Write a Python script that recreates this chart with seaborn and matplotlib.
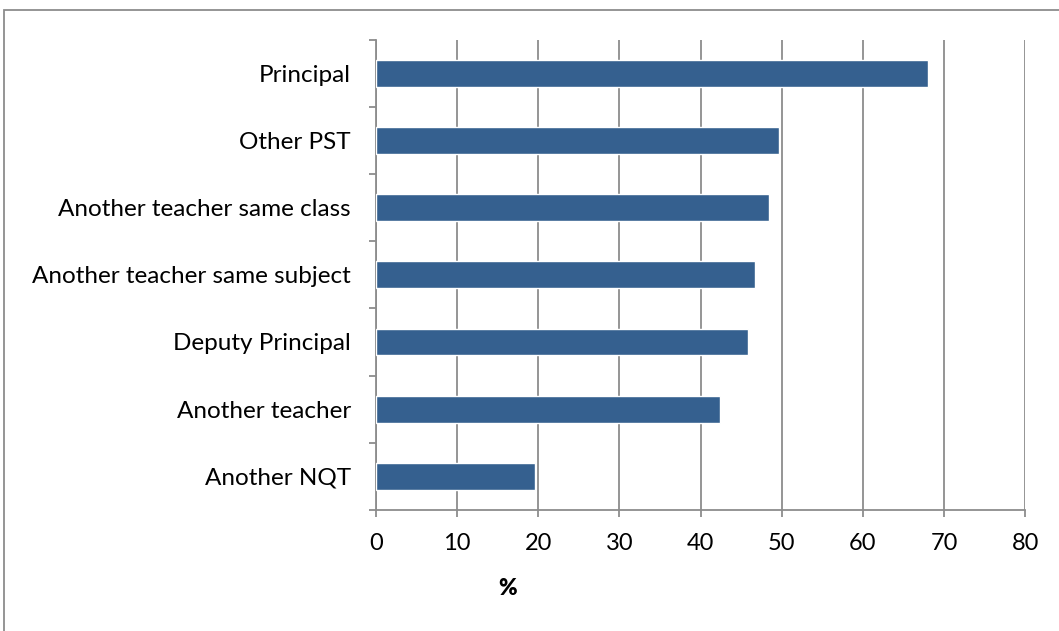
import numpy as np
import pandas as pd
import seaborn as sns
import matplotlib.pyplot as plt
from matplotlib.patches import Rectangle

categories = ["Principal", "Other PST", "Another teacher same class",
              "Another teacher same subject", "Deputy Principal",
              "Another teacher", "Another NQT"]
values = [68.0, 49.7, 48.4, 46.7, 45.8, 42.4, 19.6]
x_ticks = [0, 10, 20, 30, 40, 50, 60, 70, 80]

df = pd.DataFrame({"who": categories, "pct": values})

sns.set_theme(style="white")
plt.rcParams['font.family'] = ['Lato', 'DejaVu Sans']

fig = plt.figure(figsize=(10.59, 6.31), dpi=100)
ax = fig.add_axes([0.355, 0.192, 0.613, 0.745])

sns.barplot(data=df, x="pct", y="who", color="#35608f", width=0.4,
            saturation=1, ax=ax, zorder=3)

ax.set_xlim(0, 80)
ax.set_xticks(x_ticks)
ax.set_ylim(len(categories) - 0.5, -0.5)
ax.xaxis.grid(True, color="#8c8c8c", linewidth=1.3, zorder=0)
ax.yaxis.grid(False)

# excel-style y ticks sit between categories
ax.set_yticks(np.arange(len(categories)), categories)
ax.set_yticks(np.arange(-0.5, len(categories)), minor=True)
ax.tick_params(axis="y", which="major", length=0, pad=18, labelsize=17.5, colors="black")
ax.tick_params(axis="y", which="minor", length=5, width=1.3, color="#8c8c8c", left=True)
ax.tick_params(axis="x", length=5, width=1.3, color="#8c8c8c", bottom=True,
               labelsize=17, pad=12, labelcolor="black")

for s in ["top", "right"]:
    ax.spines[s].set_visible(False)
for s in ["left", "bottom"]:
    ax.spines[s].set_color("#8c8c8c")
    ax.spines[s].set_linewidth(1.3)

ax.set_ylabel("")
ax.set_xlabel("%", fontsize=16, fontweight="heavy", color="black")
ax.xaxis.set_label_coords(0.2035, -0.145)

# outer chart frame
fig.patches.append(Rectangle((4 / 1059, -0.1), 1.2, 1 - 10 / 631 + 0.1,
                             transform=fig.transFigure, fill=False,
                             edgecolor="#8c8c8c", linewidth=1.3))

fig.savefig("out.png", dpi=100)
